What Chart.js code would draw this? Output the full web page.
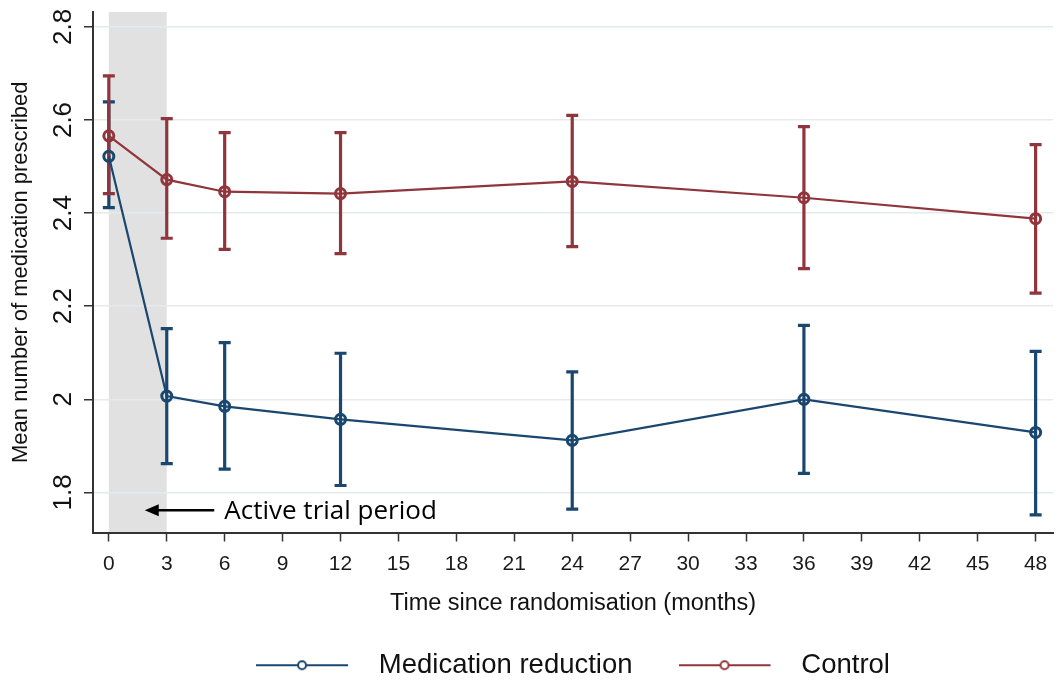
<!doctype html>
<html lang="en">
<head>
<meta charset="UTF-8">
<title>Mean number of medication prescribed</title>
<script src="https://cdn.jsdelivr.net/npm/chart.js"></script>
<style>
  body { margin: 0; background: #fff; }
  #wrap { width: 1061px; height: 681px; position: relative; }
</style>
</head>
<body>
<div id="wrap"><canvas id="chart"></canvas></div>
<script>
// months after randomisation
const months = [0, 3, 6, 12, 24, 36, 48];

const reductionMean = [2.522, 2.007, 1.985, 1.957, 1.912, 2.000, 1.929];
const reductionLow  = [2.412, 1.862, 1.850, 1.815, 1.764, 1.841, 1.752];
const reductionHigh = [2.639, 2.152, 2.122, 2.099, 2.059, 2.159, 2.103];

const controlMean = [2.566, 2.472, 2.446, 2.442, 2.468, 2.433, 2.388];
const controlLow  = [2.442, 2.346, 2.322, 2.313, 2.328, 2.281, 2.228];
const controlHigh = [2.695, 2.603, 2.573, 2.573, 2.610, 2.586, 2.547];

const xTicks = [0, 3, 6, 9, 12, 15, 18, 21, 24, 27, 30, 33, 36, 39, 42, 45, 48];
const yTicks = [1.8, 2.0, 2.2, 2.4, 2.6, 2.8];
const yTickLabels = ['1.8', '2', '2.2', '2.4', '2.6', '2.8'];

const seriesNames = ['Medication reduction', 'Control'];
const activePeriod = [0, 3];
const activeLabel = 'Active trial period';

const BLUE = '#1a476f';
const RED = '#90353b';
const FONT = '"Liberation Sans", Arial, sans-serif';

function legendSymbol(color) {
    const c = document.createElement('canvas');
    c.width = 109; c.height = 14;
    const g = c.getContext('2d');
    g.strokeStyle = color;
    g.lineWidth = 2;
    g.beginPath(); g.moveTo(0, 7); g.lineTo(92, 7); g.stroke();
    g.fillStyle = '#fff';
    g.beginPath(); g.arc(46, 7, 4, 0, Math.PI * 2); g.fill(); g.stroke();
    return c;
}
const symbols = [legendSymbol(BLUE), legendSymbol(RED)];

const errorBars = {
    id: 'errorBars',
    beforeDatasetsDraw(chart) {
        const { ctx, scales: { x, y } } = chart;
        const sets = [[reductionLow, reductionHigh, BLUE], [controlLow, controlHigh, RED]];
        ctx.save();
        ctx.lineWidth = 3.2;
        sets.forEach(([lo, hi, col]) => {
            ctx.strokeStyle = col;
            months.forEach((m, i) => {
                const px = x.getPixelForValue(m);
                const y1 = y.getPixelForValue(lo[i]);
                const y2 = y.getPixelForValue(hi[i]);
                ctx.beginPath();
                ctx.moveTo(px, y1); ctx.lineTo(px, y2);
                ctx.moveTo(px - 6, y1); ctx.lineTo(px + 6, y1);
                ctx.moveTo(px - 6, y2); ctx.lineTo(px + 6, y2);
                ctx.stroke();
            });
        });
        ctx.restore();
    }
};

const shading = {
    id: 'shading',
    beforeDraw(chart) {
        const { ctx, chartArea, scales: { x } } = chart;
        const x1 = x.getPixelForValue(activePeriod[0]);
        const x2 = x.getPixelForValue(activePeriod[1]);
        ctx.save();
        ctx.fillStyle = '#e1e1e1';
        ctx.fillRect(x1, chartArea.top, x2 - x1, chartArea.bottom - chartArea.top);
        ctx.restore();
    }
};

const annotations = {
    id: 'annotations',
    afterDraw(chart) {
        const { ctx, scales: { x, y } } = chart;
        ctx.save();
        // rotated y tick labels
        ctx.fillStyle = '#111';
        ctx.font = '26px ' + FONT;
        ctx.textAlign = 'center';
        ctx.textBaseline = 'middle';
        y.ticks.forEach((t, i) => {
            ctx.save();
            ctx.translate(64, y.getPixelForValue(t.value));
            ctx.rotate(-Math.PI / 2);
            ctx.fillText(yTickLabels[i], 0, 0);
            ctx.restore();
        });
        // arrow + label
        const ay = y.getPixelForValue(1.762);
        const head = x.getPixelForValue(1.86);
        const tail = x.getPixelForValue(5.46);
        ctx.strokeStyle = '#000';
        ctx.fillStyle = '#000';
        ctx.lineWidth = 2.5;
        ctx.beginPath(); ctx.moveTo(tail, ay); ctx.lineTo(head + 10, ay); ctx.stroke();
        ctx.beginPath();
        ctx.moveTo(head, ay); ctx.lineTo(head + 14, ay - 6); ctx.lineTo(head + 14, ay + 6);
        ctx.closePath(); ctx.fill();
        ctx.font = '26px "Open Sans", sans-serif';
        ctx.textAlign = 'left';
        ctx.textBaseline = 'alphabetic';
        ctx.fillText(activeLabel, x.getPixelForValue(5.98), ay + 9);
        ctx.restore();
    }
};

new Chart(document.getElementById('chart'), {
    type: 'line',
    data: {
        datasets: [
            {
                label: seriesNames[0],
                data: months.map((m, i) => ({ x: m, y: reductionMean[i] })),
                borderColor: BLUE,
                borderWidth: 2.2,
                pointRadius: 5,
                pointBorderWidth: 3,
                pointBackgroundColor: 'rgba(255,255,255,0)',
                pointBorderColor: BLUE,
                tension: 0
            },
            {
                label: seriesNames[1],
                data: months.map((m, i) => ({ x: m, y: controlMean[i] })),
                borderColor: RED,
                borderWidth: 2.2,
                pointRadius: 5,
                pointBorderWidth: 3,
                pointBackgroundColor: 'rgba(255,255,255,0)',
                pointBorderColor: RED,
                tension: 0
            }
        ]
    },
    options: {
        responsive: true,
        maintainAspectRatio: false,
        animation: false,
        layout: { padding: { top: 12, right: 3, left: 0, bottom: -8 } },
        scales: {
            x: {
                type: 'linear',
                min: -0.82,
                max: 48.9,
                afterBuildTicks: s => { s.ticks = xTicks.map(v => ({ value: v })); },
                afterFit: s => { s.height = 73; s.paddingLeft = 0; s.paddingRight = 0; },
                grid: { display: true, drawOnChartArea: false, drawTicks: true, tickLength: 9, tickColor: '#333', tickWidth: 1.5 },
                border: { color: '#333', width: 2 },
                ticks: { color: '#1a1a1a', font: { family: FONT, size: 21 }, padding: 10, maxRotation: 0, autoSkip: false },
                title: { display: true, text: 'Time since randomisation (months)', color: '#111', font: { family: FONT, size: 23.5 }, padding: { top: 4, bottom: -12 } }
            },
            y: {
                type: 'linear',
                min: 1.714,
                max: 2.832,
                afterBuildTicks: s => { s.ticks = yTicks.map(v => ({ value: v })); },
                afterFit: s => { s.width = 93; },
                grid: { color: '#e6eaed', lineWidth: 1.5, drawTicks: true, tickLength: 9, tickColor: '#333', tickWidth: 1.5 },
                border: { color: '#333', width: 2 },
                ticks: { display: false },
                title: { display: true, text: 'Mean number of medication prescribed', color: '#111', font: { family: FONT, size: 22 }, padding: { top: 8, bottom: 0 } }
            }
        },
        plugins: {
            legend: {
                position: 'bottom',
                fullSize: false,
                labels: {
                    usePointStyle: true,
                    pointStyleWidth: 109,
                    boxHeight: 14,
                    padding: 46,
                    color: '#111',
                    font: { family: FONT, size: 27.5 },
                    generateLabels: chart => chart.data.datasets.map((ds, i) => ({
                        text: ds.label,
                        pointStyle: symbols[i],
                        fillStyle: ds.borderColor,
                        strokeStyle: ds.borderColor,
                        lineWidth: 0,
                        hidden: false,
                        datasetIndex: i,
                        fontColor: '#111'
                    }))
                }
            },
            tooltip: { enabled: false }
        }
    },
    plugins: [shading, errorBars, annotations]
});
</script>
</body>
</html>
